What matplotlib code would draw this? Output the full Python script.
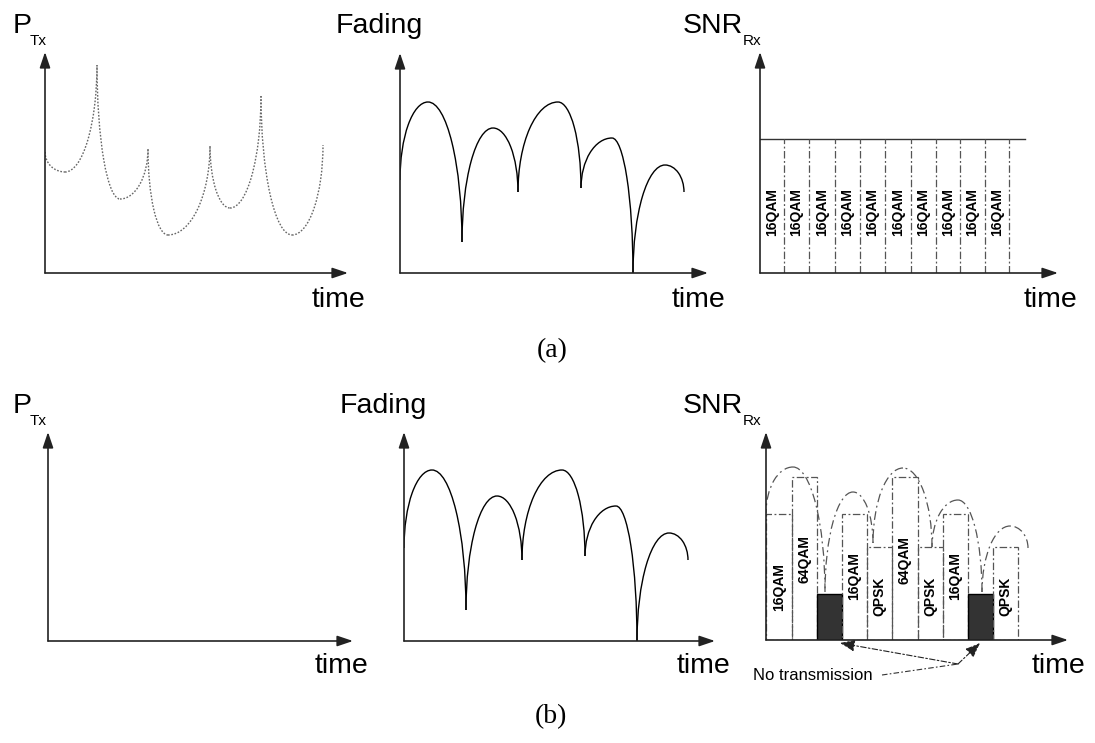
import matplotlib
matplotlib.use("Agg")
import matplotlib.pyplot as plt
from matplotlib.patches import Arc, Rectangle

# transmit power (a): cusp / minimum points
ptx_time = [0, 20, 52, 75, 103, 123, 165, 185, 216, 247, 278]
ptx_level = [121, 101, 208, 74, 124, 38, 127, 65, 177, 38, 128]

# fading: dip / peak points
fade_time = [0, 28, 62, 93, 118, 158, 181, 212, 233, 265, 284]
fade_level = [93, 171, 31, 145, 81, 171, 85, 135, 0, 108, 81]

# received SNR envelope in (b)
snr_time = [0, 27, 59, 87, 107, 137, 166, 192, 216, 244, 262]
snr_level = [127, 173, 48, 148, 97, 172, 93, 140, 48, 114, 92]

# (a) fixed modulation slots
slots_a = [0, 24, 49, 75, 100, 125, 151, 176, 200, 225, 249]
mods_a = ['16QAM', '16QAM', '16QAM', '16QAM', '16QAM',
          '16QAM', '16QAM', '16QAM', '16QAM', '16QAM']
snr_const = 134
snr_const_end = 265

# (b) adaptive modulation slots ('' = no transmission)
slots_b = [0, 26, 51, 76, 101, 126, 152, 177, 202, 227, 252]
mods_b = ['16QAM', '64QAM', '', '16QAM', 'QPSK', '64QAM', 'QPSK', '16QAM', '', 'QPSK']
mod_level = {'QPSK': 93, '16QAM': 126, '64QAM': 163}
notx_level = 46

W, H = 1095, 743
fig = plt.figure(figsize=(W / 100, H / 100), dpi=100)
SANS = 'Liberation Sans'
SERIF = 'Liberation Serif'


def panel(ox, oy, xlen, ylen):
    # axes placed so that one data unit is one pixel, origin at (ox, oy)
    ax = fig.add_axes([ox / W, 1 - oy / H, xlen / W, ylen / H])
    ax.set_xlim(0, xlen)
    ax.set_ylim(0, ylen)
    ax.axis('off')
    arrow = dict(arrowstyle='-|>,head_length=0.95,head_width=0.32',
                 mutation_scale=10, color='#222222', lw=1.2,
                 shrinkA=0, shrinkB=0)
    ax.annotate('', xy=(xlen, 0), xytext=(0, 0), arrowprops=arrow,
                annotation_clip=False)
    ax.annotate('', xy=(0, ylen), xytext=(0, 0), arrowprops=arrow,
                annotation_clip=False)
    return ax


def humps(ax, t, v, **kw):
    # quarter ellipses rising from each dip to the peak and back down
    for i in range(1, len(t) - 1, 2):
        xl, xp, xr = t[i - 1], t[i], t[i + 1]
        yl, yp, yr = v[i - 1], v[i], v[i + 1]
        ax.add_patch(Arc((xp, yl), 2 * (xp - xl), 2 * (yp - yl),
                         theta1=90, theta2=180, **kw))
        ax.add_patch(Arc((xp, yr), 2 * (xr - xp), 2 * (yp - yr),
                         theta1=0, theta2=90, **kw))


def bowls(ax, t, v, **kw):
    # quarter ellipses falling from each cusp to the minimum and back up
    for i in range(1, len(t) - 1, 2):
        xl, xm, xr = t[i - 1], t[i], t[i + 1]
        yl, ym, yr = v[i - 1], v[i], v[i + 1]
        ax.add_patch(Arc((xm, yl), 2 * (xm - xl), 2 * (yl - ym),
                         theta1=180, theta2=270, **kw))
        ax.add_patch(Arc((xm, yr), 2 * (xr - xm), 2 * (yr - ym),
                         theta1=270, theta2=360, **kw))


def ftext(x, y, s, size, **kw):
    fig.text(x / W, 1 - y / H, s, fontsize=size, **kw)


def title(x, y, main, sub, sub_x):
    ftext(x, y, main, 20.5, family=SANS, va='baseline')
    ftext(sub_x, y + 12, sub, 11, family=SANS, va='baseline')


slot_style = dict(color='#555555', lw=0.9, ls=(0, (6, 2, 1.5, 2)))
curve_dash = dict(color='#555555', lw=0.9, ls=(0, (7, 3, 1.5, 3)))

# ---------------- (a) ----------------
ax1 = panel(45, 273, 303, 221)
bowls(ax1, ptx_time, ptx_level, color='#666666', lw=1.0, ls=(0, (1.2, 1.2)))

ax2 = panel(400, 273, 308, 220)
humps(ax2, fade_time, fade_level, color='black', lw=1.0)

ax3 = panel(760, 273, 298, 221)
ax3.plot([0, snr_const_end], [snr_const, snr_const], color='#333333', lw=1.0)
for k, m in enumerate(mods_a):
    x0 = slots_a[k]
    x1 = slots_a[k + 1]
    ax3.plot([x1, x1], [0, snr_const], **slot_style)
    ax3.text((x0 + x1) / 2, 61, m, rotation=90, ha='center', va='center',
             fontsize=10, fontweight='bold', family=SANS)

# ---------------- (b) ----------------
ax4 = panel(48, 641, 305, 209)

ax5 = panel(404, 641, 311, 209)
humps(ax5, fade_time, fade_level, color='black', lw=1.0)

ax6 = panel(766, 640, 302, 208)
humps(ax6, snr_time, snr_level, **curve_dash)
label_mid = [53, 81, 0, 64, 44, 80, 44, 64, 0, 44]
for k, m in enumerate(mods_b):
    x0 = slots_b[k]
    x1 = slots_b[k + 1]
    if m:
        ax6.add_patch(Rectangle((x0, 0), x1 - x0, mod_level[m], fill=False,
                                **slot_style))
        ax6.text((x0 + x1) / 2, label_mid[k], m, rotation=90, ha='center',
                 va='center', fontsize=10, fontweight='bold', family=SANS)
    else:
        ax6.add_patch(Rectangle((x0, 0), x1 - x0, notx_level,
                                facecolor='#333333', edgecolor='black', lw=1.0))

# "No transmission" callout
ax6.text(-13, -36, 'No transmission', fontsize=12, family=SANS,
         ha='left', va='center', clip_on=False)
ax6.plot([116, 192], [-35, -24], color='#333333', lw=0.8,
         ls=(0, (5, 2, 1.5, 2)), clip_on=False)
call = dict(arrowstyle='-|>,head_length=0.9,head_width=0.35',
            mutation_scale=10, color='#222222', lw=0.8,
            ls=(0, (5, 2, 1.5, 2)), shrinkA=0, shrinkB=0)
ax6.annotate('', xy=(slots_b[3] - 2, -3), xytext=(192, -24),
             arrowprops=call, annotation_clip=False)
ax6.annotate('', xy=(slots_b[8] + 12, -3), xytext=(192, -24),
             arrowprops=call, annotation_clip=False)

# titles and axis labels
for row, dy in ((0, 0), (1, 380)):
    title(13, 33 + dy, 'P', 'Tx', 30)
    ftext(336 + 4 * row, 33 + dy, 'Fading', 20.5, family=SANS, va='baseline')
    title(683, 33 + dy, 'SNR', 'Rx', 743)

for xr, yb in ((365, 307), (725, 307), (1077, 307),
               (368, 673), (730, 673), (1085, 673)):
    ftext(xr, yb, 'time', 20.5, family=SANS, ha='right', va='baseline')

ftext(552, 351, '(a)', 20, family=SERIF, ha='center', va='center')
ftext(551, 717, '(b)', 20, family=SERIF, ha='center', va='center')

fig.savefig('out.png', dpi=100)
